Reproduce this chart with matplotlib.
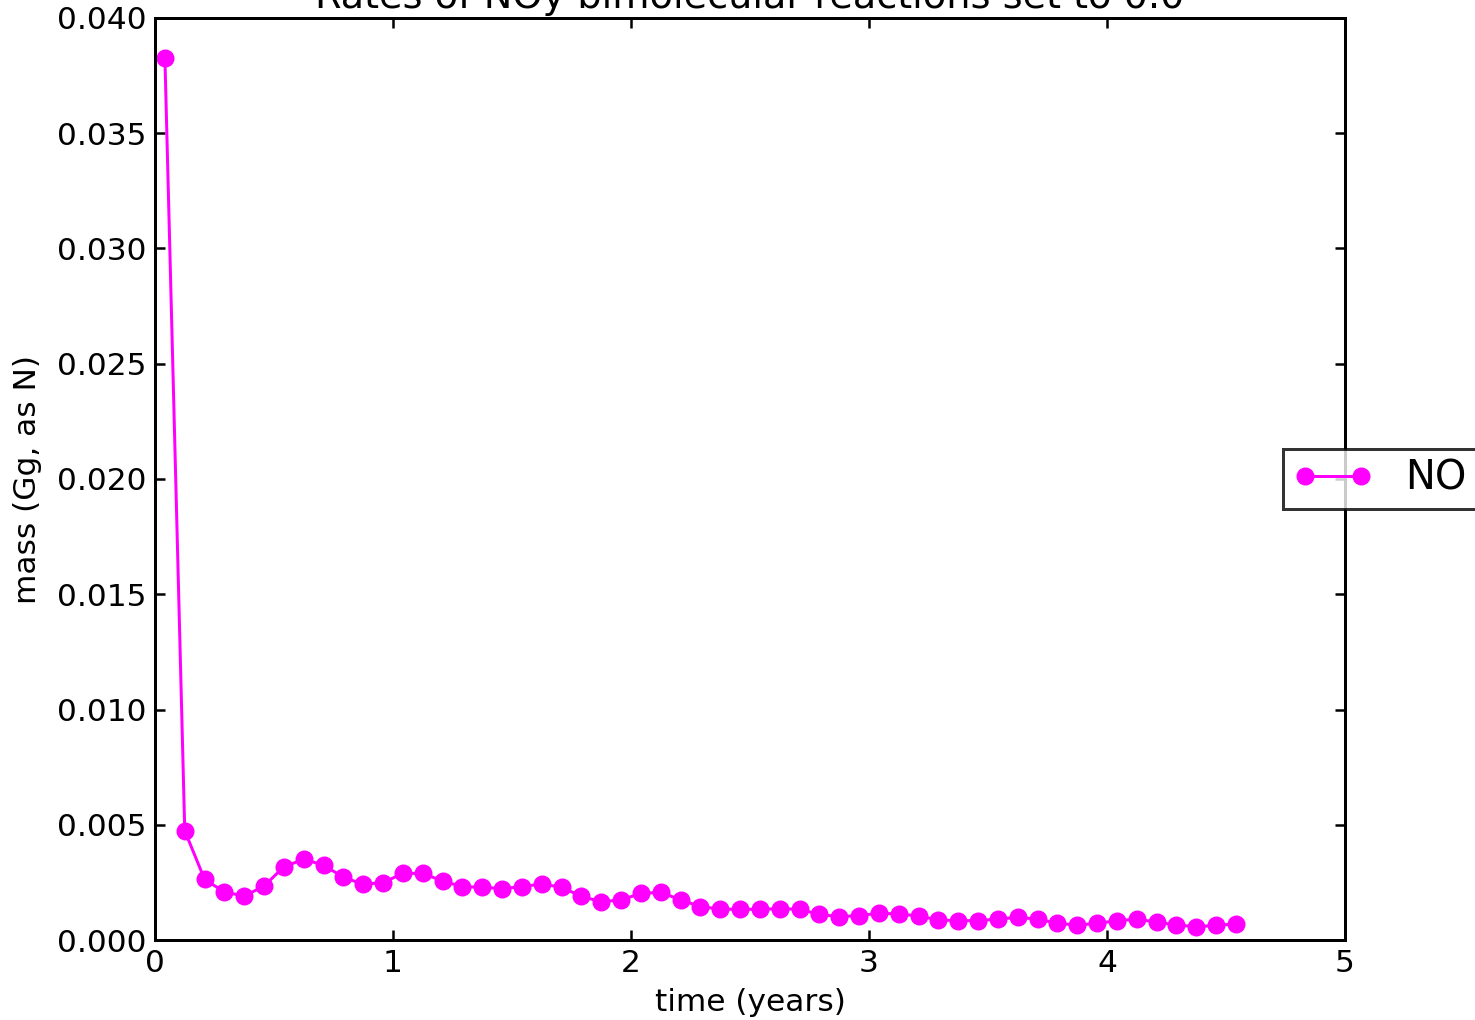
import numpy as np
import matplotlib
matplotlib.use('Agg')
import matplotlib.pyplot as plt

# monthly output, mid-month time stamps (years)
months = np.arange(55)
time = (months + 0.5) / 12.0

no_mass = [0.03826, 0.00474, 0.00263, 0.00208, 0.00191, 0.00234, 0.00318, 0.00350,
           0.00325, 0.00272, 0.00242, 0.00249, 0.00289, 0.00289, 0.00256, 0.00231,
           0.00229, 0.00223, 0.00231, 0.00243, 0.00229, 0.00189, 0.00166, 0.00174,
           0.00202, 0.00207, 0.00174, 0.00145, 0.00134, 0.00133, 0.00133, 0.00136,
           0.00133, 0.00111, 0.00101, 0.00106, 0.00116, 0.00113, 0.00104, 0.00087,
           0.00084, 0.00084, 0.00091, 0.00098, 0.00091, 0.00072, 0.00065, 0.00072,
           0.00084, 0.00090, 0.00078, 0.00065, 0.00058, 0.00063, 0.00070]

plt.rcParams['font.family'] = 'DejaVu Sans'
plt.rcParams['font.size'] = 12.5

fig = plt.figure(figsize=(1476/180., 1020/180.), dpi=180)
ax = fig.add_axes([155/1476., 80/1020., 1190/1476., 922/1020.])

ax.plot(time, no_mass, '-o', color='#ff00ff', lw=1.2, ms=6.2, mec='#ff00ff', label='NO')

ax.set_xlim(0, 5)
ax.set_ylim(0, 0.040)
ax.set_xticks([0, 1, 2, 3, 4, 5])
ax.set_yticks(np.arange(0, 0.0401, 0.005))
ax.yaxis.set_major_formatter(matplotlib.ticker.FormatStrFormatter('%.3f'))
ax.tick_params(direction='in', top=True, right=True, length=4, width=1, pad=3.5)
for side in ['bottom', 'right', 'top', 'left']:
    ax.spines[side].set_linewidth(1.2)

ax.set_xlabel('time (years)', labelpad=4)
ax.set_ylabel('mass (Gg, as N)', labelpad=6)
ax.set_title('Rates of NOy bimolecular reactions set to 0.0', fontsize=15.3, pad=4)

leg = ax.legend(loc='center left', bbox_to_anchor=(0.948, 0.5), fontsize=16,
                frameon=True, fancybox=False, borderaxespad=0, handlelength=2,
                borderpad=0.25, numpoints=2)
leg.get_frame().set_edgecolor('k')
leg.get_frame().set_linewidth(1.2)

plt.savefig('out.png', dpi=180)
